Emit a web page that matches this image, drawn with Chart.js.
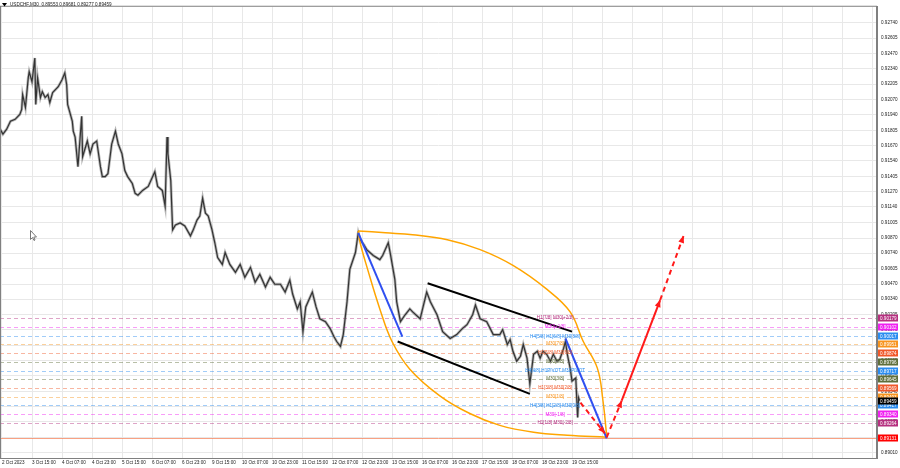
<!DOCTYPE html>
<html>
<head>
<meta charset="utf-8">
<script src="https://cdn.jsdelivr.net/npm/chart.js@4.4.0/dist/chart.umd.min.js"></script>
<style>
html, body { margin: 0; padding: 0; background: #fff; }
canvas { display: block; }
</style>
</head>
<body>
<canvas id="chart" width="900" height="468"></canvas>
<script>
var title = 'USDCHF,M30  0.89553 0.89681 0.89277 0.89459';
var timeLabels = ['2 Oct 2023', '3 Oct 15:00', '4 Oct 07:00', '4 Oct 23:00', '5 Oct 15:00', '6 Oct 07:00', '6 Oct 23:00',
  '9 Oct 15:00', '10 Oct 07:00', '10 Oct 23:00', '11 Oct 15:00', '12 Oct 07:00', '12 Oct 23:00', '13 Oct 15:00',
  '16 Oct 07:00', '16 Oct 23:00', '17 Oct 15:00', '18 Oct 07:00', '18 Oct 23:00', '19 Oct 15:00'];
var barsPerLabel = 32;
var priceTicks = [0.92740, 0.92605, 0.92470, 0.92340, 0.92205, 0.92070, 0.91940, 0.91805, 0.91670, 0.91540,
  0.91405, 0.91270, 0.91140, 0.91005, 0.90870, 0.90740, 0.90605, 0.90470, 0.90340, 0.90205, 0.90075, 0.89940,
  0.89805, 0.89675, 0.89540, 0.89410, 0.89275, 0.89140, 0.89010];

// M30 bar index / price
var priceBars = [-2, 1, 5, 9, 14, 19, 21, 22, 25, 28, 29, 32, 35, 36, 38, 41, 43, 46, 49, 51, 54, 60, 64, 67, 69, 70,
  75, 76, 78, 81, 85, 86, 91, 94, 97, 101, 105, 107, 110, 113, 117, 121, 124, 128, 131, 134, 139, 142, 145, 150,
  156, 163, 166, 171, 174, 176, 177, 180, 182, 185, 190, 195, 201, 204, 208, 211, 214, 217, 220, 224, 227, 230,
  235, 238, 243, 249, 254, 259, 265, 270, 275, 281, 286, 291, 297, 302, 307, 310, 315, 318, 321, 324, 331, 335,
  339, 345, 350, 354, 357, 361, 364, 368, 371, 377, 380, 382, 386, 389, 396, 403, 406, 412, 414, 419, 421, 425,
  430, 435, 438, 446, 453, 457, 464, 470, 478, 485, 491, 496, 502, 505, 510, 517, 524, 531, 534, 539, 542, 545,
  549, 553, 556, 560, 563, 567, 571, 574, 577, 581, 585, 588, 592, 595, 599, 601, 603, 606, 608, 612, 614, 615, 616];
var prices = [0.91815, 0.91772, 0.91815, 0.91883, 0.91900, 0.91943, 0.91986, 0.92115, 0.92003, 0.92260, 0.92312,
  0.92226, 0.92432, 0.92029, 0.92260, 0.92089, 0.92140, 0.92089, 0.92115, 0.92046, 0.92132, 0.92183, 0.92243,
  0.92303, 0.92200, 0.92029, 0.91883, 0.91798, 0.91746, 0.91489, 0.91926, 0.91575, 0.91712, 0.91601, 0.91686,
  0.91712, 0.91489, 0.91403, 0.91403, 0.91429, 0.91686, 0.91798, 0.91686, 0.91601, 0.91455, 0.91403, 0.91343,
  0.91258, 0.91241, 0.91283, 0.91318, 0.91446, 0.91318, 0.91283, 0.91146, 0.91746, 0.91601, 0.91369, 0.90941,
  0.90983, 0.91001, 0.90975, 0.90889, 0.90941, 0.91026, 0.91061, 0.91215, 0.91086, 0.91061, 0.90941, 0.90829,
  0.90701, 0.90641, 0.90744, 0.90641, 0.90572, 0.90641, 0.90529, 0.90615, 0.90486, 0.90555, 0.90444, 0.90529,
  0.90469, 0.90469, 0.90401, 0.90504, 0.90384, 0.90255, 0.90315, 0.90058, 0.90272, 0.90401, 0.90272, 0.90169,
  0.90144, 0.90084, 0.90015, 0.89972, 0.89929, 0.90032, 0.90315, 0.90598, 0.90744, 0.90915, 0.90855, 0.90812,
  0.90769, 0.90718, 0.90683, 0.90718, 0.90829, 0.90744, 0.90512, 0.90315, 0.90144, 0.90204, 0.90255, 0.90229,
  0.90169, 0.90401, 0.90315, 0.90204, 0.90058, 0.89998, 0.90032, 0.90084, 0.90118, 0.90204, 0.90289, 0.90169,
  0.90144, 0.90032, 0.90032, 0.90075, 0.89946, 0.89989, 0.89887, 0.89801, 0.89844, 0.89946, 0.89827, 0.89604,
  0.89861, 0.89887, 0.89827, 0.89887, 0.89861, 0.89801, 0.89861, 0.89801, 0.89818, 0.89912, 0.89972, 0.89861,
  0.89741, 0.89629, 0.89655, 0.89312, 0.89484, 0.89459];

// Murrey levels
var levelPrices = [0.90179, 0.90102, 0.90017, 0.89951, 0.89874, 0.89796, 0.89717, 0.89645, 0.89569, 0.89493, 0.89417, 0.89340, 0.89264];
var levelNames = ['H1[7/8] M30[+2/8]', 'M30[+1/8]', 'H4[5/8] H1[6/8] M30[8/8]', 'M30[7/8]', 'H1[5/8] M30[6/8]', 'M30[5/8]',
  'H4[4/8] H1PIVOT M30PIVOT', 'M30[3/8]', 'H1[3/8] M30[2/8]', 'M30[1/8]', 'H4[3/8] H1[2/8] M30[0/8]', 'M30[-1/8]', 'H1[1/8] M30[-2/8]'];
var lastPrice = 0.89459;
var targetPrice = 0.89131;
var labelBar = 590;

// drawn objects
var arcUpperBars = [380, 409, 438, 475, 510, 545, 581, 606, 620, 635, 641, 645];
var arcUpperPrices = [0.90932, 0.90915, 0.90898, 0.90855, 0.90769, 0.90632, 0.90426, 0.90229, 0.89972, 0.89741, 0.89458, 0.89151];
var arcLowerBars = [380, 382, 390, 403, 416, 435, 467, 499, 531, 567, 603, 645];
var arcLowerPrices = [0.90932, 0.90829, 0.90598, 0.90255, 0.89972, 0.89732, 0.89501, 0.89347, 0.89244, 0.89184, 0.89158, 0.89141];
var waveABars = [380, 427], waveAPrices = [0.90915, 0.90015];
var waveBBars = [601, 645], waveBPrices = [0.89998, 0.89132];
var chanTopBars = [454, 608], chanTopPrices = [0.90478, 0.90058];
var chanBotBars = [422, 563], chanBotPrices = [0.89972, 0.89518];
var projBars = [[617, 643], [645, 661], [661, 702], [702, 727]];
var projPrices = [[0.89441, 0.89175], [0.89141, 0.89458], [0.89458, 0.90332], [0.90332, 0.90889]];
var projDashed = [true, true, false, true];

var levelColors = ['#b5307f', '#f020f0', '#2a8cf0', '#f7931e', '#f0582a', '#5e6e3a', '#2a8cf0', '#5e6e3a', '#f0582a', '#f7931e', '#2a8cf0', '#f020f0', '#b5307f'];
var FONT = 'Liberation Sans';

function pts(bars, vals) {
  return bars.map(function (b, i) { return { x: b, y: vals[i] }; });
}

function line(data, color, width, order, extra) {
  var ds = { data: data, borderColor: color, borderWidth: width, pointRadius: 0, fill: false, order: order, tension: 0 };
  for (var k in extra) ds[k] = extra[k];
  return ds;
}

var datasets = [
  line(pts(priceBars, prices), 'rgba(110,110,110,0.5)', 2.8, 20),
  line(pts(priceBars, prices), '#333333', 1.2, 19),
  line(pts(arcUpperBars, arcUpperPrices), '#ffa500', 1.5, 10, { tension: 0.4 }),
  line(pts(arcLowerBars, arcLowerPrices), '#ffa500', 1.5, 10, { tension: 0.4 }),
  line(pts(chanTopBars, chanTopPrices), '#000000', 2, 8),
  line(pts(chanBotBars, chanBotPrices), '#000000', 2, 8),
  line(pts(waveABars, waveAPrices), '#2f4ff0', 2, 6),
  line(pts(waveBBars, waveBPrices), '#2f4ff0', 2, 6)
];
projBars.forEach(function (b, i) {
  datasets.push(line(pts(b, projPrices[i]), '#ff1a1a', 2, 2, projDashed[i] ? { borderDash: [5, 4] } : {}));
});

var overlay = {
  id: 'overlay',
  beforeDatasetsDraw: function (chart) {
    var ctx = chart.ctx, a = chart.chartArea, y = chart.scales.y;
    ctx.save();
    ctx.lineWidth = 1;
    ctx.setLineDash([4, 3]);
    levelPrices.forEach(function (p, i) {
      var py = Math.round(y.getPixelForValue(p)) + 0.5;
      ctx.strokeStyle = levelColors[i] + '70';
      ctx.beginPath(); ctx.moveTo(a.left, py); ctx.lineTo(a.right, py); ctx.stroke();
    });
    ctx.setLineDash([]);
    var ty = Math.round(y.getPixelForValue(targetPrice)) + 0.5;
    ctx.strokeStyle = 'rgba(245,130,90,0.75)';
    ctx.beginPath(); ctx.moveTo(a.left, ty); ctx.lineTo(a.right, ty); ctx.stroke();
    ctx.restore();
  },
  afterDatasetsDraw: function (chart) {
    var ctx = chart.ctx, x = chart.scales.x, y = chart.scales.y;
    ctx.save();
    // arrow heads
    ctx.fillStyle = '#ff1a1a';
    projBars.forEach(function (b, i) {
      var x0 = x.getPixelForValue(b[0]), y0 = y.getPixelForValue(projPrices[i][0]);
      var x1 = x.getPixelForValue(b[1]), y1 = y.getPixelForValue(projPrices[i][1]);
      var ang = Math.atan2(y1 - y0, x1 - x0);
      ctx.beginPath();
      ctx.moveTo(x1, y1);
      ctx.lineTo(x1 - 7 * Math.cos(ang) + 3 * Math.sin(ang), y1 - 7 * Math.sin(ang) - 3 * Math.cos(ang));
      ctx.lineTo(x1 - 7 * Math.cos(ang) - 3 * Math.sin(ang), y1 - 7 * Math.sin(ang) + 3 * Math.cos(ang));
      ctx.closePath();
      ctx.fill();
    });
    // level names
    ctx.font = '4.6px "' + FONT + '"';
    ctx.textAlign = 'center';
    ctx.textBaseline = 'middle';
    var lx = x.getPixelForValue(labelBar);
    levelPrices.forEach(function (p, i) {
      ctx.fillStyle = levelColors[i];
      ctx.fillText(levelNames[i], lx, y.getPixelForValue(p));
    });
    ctx.restore();
  },
  afterDraw: function (chart) {
    var ctx = chart.ctx, a = chart.chartArea, y = chart.scales.y;
    ctx.save();
    // frame
    ctx.strokeStyle = '#808080';
    ctx.lineWidth = 1;
    ctx.strokeRect(a.left + 0.5, a.top - 0.5, a.right - a.left - 1, a.bottom - a.top + 1);
    // mouse pointer left on the chart
    ctx.strokeStyle = '#777';
    ctx.fillStyle = '#fff';
    ctx.beginPath();
    ctx.moveTo(30.5, 230.5); ctx.lineTo(30.5, 239.5); ctx.lineTo(32.5, 237.5); ctx.lineTo(34, 240.5);
    ctx.lineTo(35, 240); ctx.lineTo(33.8, 237); ctx.lineTo(36.5, 237); ctx.closePath();
    ctx.fill(); ctx.stroke();
    // price tags
    ctx.font = '4.6px "' + FONT + '"';
    ctx.textAlign = 'left';
    ctx.textBaseline = 'middle';
    var tags = levelPrices.map(function (p, i) { return [p, levelColors[i]]; });
    tags.push([lastPrice, '#000000']);
    tags.push([targetPrice, '#ff0000']);
    tags.forEach(function (t) {
      var py = Math.round(y.getPixelForValue(t[0]));
      ctx.fillStyle = t[1];
      ctx.fillRect(a.right + 1, py - 3.5, 20, 7);
      ctx.fillStyle = '#ffffff';
      ctx.fillText(t[0].toFixed(5), a.right + 3, py + 0.5);
    });
    // title
    ctx.fillStyle = '#000';
    ctx.beginPath(); ctx.moveTo(2, 3); ctx.lineTo(7, 3); ctx.lineTo(4.5, 6.5); ctx.closePath(); ctx.fill();
    ctx.fillStyle = '#222';
    ctx.fillText(title, 10, 5);
    ctx.restore();
  }
};

new Chart(document.getElementById('chart'), {
  type: 'line',
  data: { datasets: datasets },
  options: {
    responsive: false,
    animation: false,
    devicePixelRatio: 1,
    events: [],
    layout: { padding: { top: 1, left: 0, right: 0, bottom: 0 } },
    plugins: { legend: { display: false }, tooltip: { enabled: false } },
    scales: {
      x: {
        type: 'linear',
        min: -2.13,
        max: 933.3,
        afterBuildTicks: function (s) {
          var t = [];
          for (var v = 0; v <= s.max; v += barsPerLabel) t.push({ value: v });
          s.ticks = t;
        },
        afterFit: function (s) { s.height = 10; },
        grid: { color: '#e8e8e8', drawTicks: false },
        border: { color: '#808080' },
        ticks: {
          align: 'start', autoSkip: false, maxRotation: 0, padding: 2, color: '#222',
          font: { family: FONT, size: 4.6 },
          callback: function (v, i) { return timeLabels[i] || ''; }
        }
      },
      y: {
        position: 'right',
        min: 0.88961,
        max: 0.92877,
        afterBuildTicks: function (s) { s.ticks = priceTicks.map(function (v) { return { value: v }; }); },
        afterFit: function (s) { s.width = 23; },
        grid: { color: '#e8e8e8', drawTicks: false },
        border: { color: '#808080' },
        ticks: {
          padding: 4, color: '#222',
          font: { family: FONT, size: 4.6 },
          callback: function (v) { return v.toFixed(5); }
        }
      }
    }
  },
  plugins: [overlay]
});
</script>
</body>
</html>
